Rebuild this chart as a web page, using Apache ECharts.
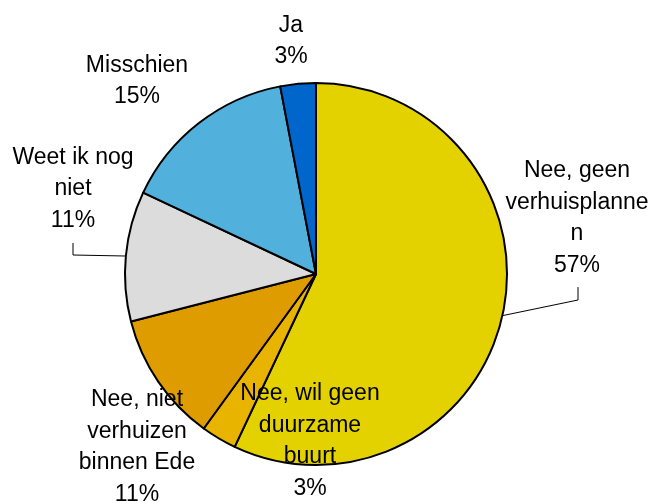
<!DOCTYPE html>
<html>
<head>
<meta charset="utf-8">
<script src="https://cdn.jsdelivr.net/npm/echarts@6/dist/echarts.min.js"></script>
<style>
  html, body { margin: 0; padding: 0; background: #fff; }
  #chart { width: 657px; height: 503px; }
</style>
</head>
<body>
<div id="chart"></div>
<script>
const categories = [
  'Nee, geen\nverhuisplanne\nn',
  'Nee, wil geen\nduurzame\nbuurt',
  'Nee, niet\nverhuizen\nbinnen Ede',
  'Weet ik nog\nniet',
  'Misschien',
  'Ja'
]
const values = [57, 3, 11, 11, 15, 3]
const colors = ['#e3d200', '#e8b400', '#de9c00', '#dcdcdc', '#52b0dc', '#0066cc']

// label block centres (layout only)
const labelPos = [
  [577, 218],
  [310, 441],
  [137, 447],
  [73, 189],
  [137, 81],
  [291, 41]
]
// bend/end points of leader lines, null = no line
const leaderPts = [
  [[578, 300], [578, 287]],
  null,
  null,
  [[73, 255], [73, 243]],
  null,
  null
]

const chart = echarts.init(document.getElementById('chart'))

chart.setOption({
  animation: false,
  series: [
    {
      type: 'pie',
      center: [316, 274],
      radius: 191,
      startAngle: 90,
      clockwise: true,
      data: categories.map((name, i) => ({
        name,
        value: values[i],
        itemStyle: { color: colors[i] },
        labelLine: { show: !!leaderPts[i] }
      })),
      itemStyle: { borderColor: '#000', borderWidth: 2 },
      label: {
        show: true,
        position: 'outside',
        formatter: '{b}\n{d}%',
        fontFamily: 'Liberation Sans, Arial, sans-serif',
        fontSize: 23,
        lineHeight: 31.5,
        color: '#000',
        align: 'center',
        overflow: 'none'
      },
      labelLine: {
        lineStyle: { color: '#000', width: 1 }
      },
      labelLayout: (params) => {
        const i = params.dataIndex
        const p = labelPos[i]
        const out = { x: p[0], y: p[1], align: 'center', verticalAlign: 'middle' }
        if (leaderPts[i] && params.labelLinePoints) {
          out.labelLinePoints = [params.labelLinePoints[0], leaderPts[i][0], leaderPts[i][1]]
        }
        return out
      }
    }
  ]
})
</script>
</body>
</html>
